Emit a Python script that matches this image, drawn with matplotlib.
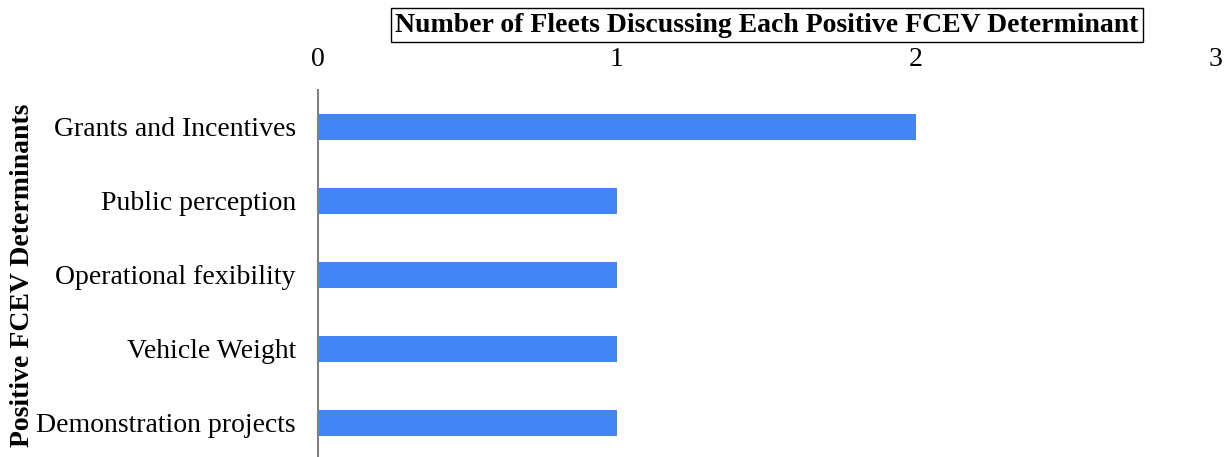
import matplotlib.pyplot as plt
import numpy as np

# Daten
categories = ["Grants and Incentives", "Public perception", "Operational fexibility",
              "Vehicle Weight", "Demonstration projects"]
counts = [2, 1, 1, 1, 1]
xticks = [0, 1, 2, 3]

plt.rcParams['font.family'] = ['Liberation Serif', 'DejaVu Serif']

fig = plt.figure(figsize=(12.27, 4.57), dpi=100)
ax = fig.add_axes([318/1227, -3/457, (1215-318)/1227, (460-90)/457])

y = np.arange(len(categories))
ax.barh(y, counts, height=0.35, color='#4285F4')

ax.set_ylim(len(categories) - 0.5, -0.5)
ax.set_xlim(0, 3)
ax.set_yticks(y)
ax.set_yticklabels(categories, fontsize=20)
ax.set_xticks(xticks)
ax.set_xticklabels([str(t) for t in xticks], fontsize=20)
ax.xaxis.tick_top()
ax.tick_params(axis='both', length=0)
ax.tick_params(axis='x', pad=13)
ax.tick_params(axis='y', pad=16)

for s in ['top', 'right', 'bottom']:
    ax.spines[s].set_visible(False)
ax.spines['left'].set_color('#808080')
ax.spines['left'].set_linewidth(1.5)

ax.set_ylabel("Positive FCEV Determinants", fontsize=20, fontweight='bold')
ax.yaxis.set_label_coords(-0.315, 0.5)

fig.text(767/1227, 1 - 25/457, "Number of Fleets Discussing Each Positive FCEV Determinant",
         ha='center', va='center', fontsize=20, fontweight='bold',
         bbox=dict(boxstyle='square,pad=0.15', facecolor='white', edgecolor='black', linewidth=1))

fig.savefig('out.png', dpi=100)
